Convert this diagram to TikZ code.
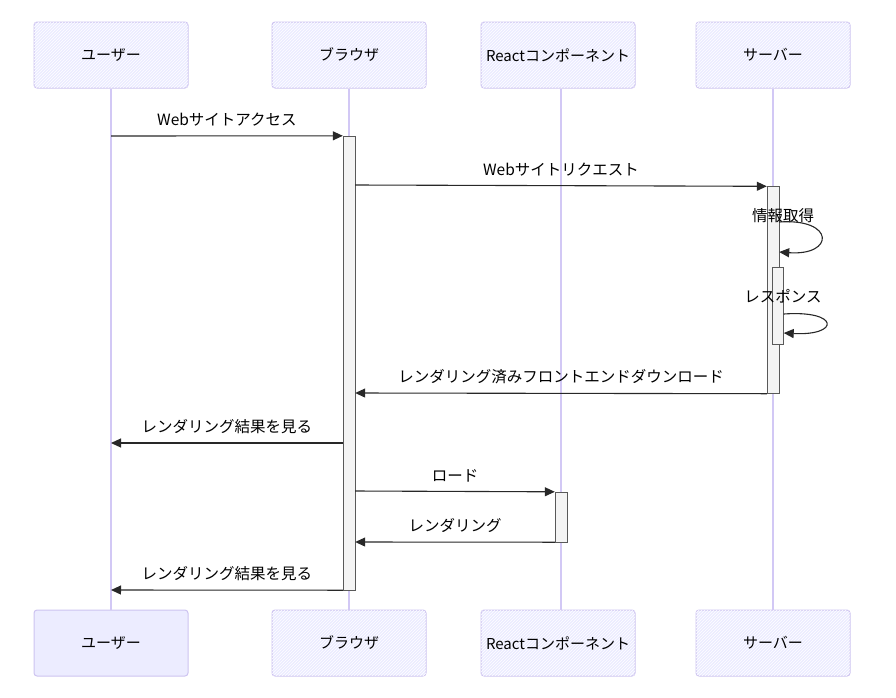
\documentclass[tikz,border=0pt]{standalone}
\usepackage{fontspec}
\setmainfont{Noto Sans CJK JP}
\usepackage{tikz}
\usetikzlibrary{positioning, arrows.meta, calc, patterns}

\definecolor{boxfill}{RGB}{236,236,255}
\definecolor{boxline}{RGB}{205,195,240}
\definecolor{lifeline}{RGB}{210,200,245}
\definecolor{actfill}{RGB}{244,244,244}
\definecolor{msgline}{RGB}{40,40,40}

\begin{document}
\begin{tikzpicture}[x=1pt, y=-1pt, >={Triangle[length=10pt,width=9pt]},
    actor/.style={draw=boxline, line width=1pt, fill=boxfill, rounded corners=3pt,
        minimum width=154pt, minimum height=66pt, font=\fontsize{15}{17}\selectfont,
        postaction={pattern=north east lines, pattern color=white}},
    actorplain/.style={draw=boxline, line width=1pt, fill=boxfill, rounded corners=3pt,
        minimum width=154pt, minimum height=66pt, font=\fontsize{15}{17}\selectfont},
    act/.style={draw=gray!70!black, fill=actfill, minimum width=12pt, inner sep=0pt},
    life/.style={draw=lifeline, line width=1.2pt},
    msg/.style={draw=msgline, line width=1.1pt, ->},
    lbl/.style={font=\fontsize{15.5}{17}\selectfont, inner sep=1pt}]

    \useasboundingbox (0,0) rectangle (896,697);

    % ================= Actors (top) =================
    \node[actor] (userT)   at (111,55)   {ユーザー};
    \node[actor] (browT)   at (349,55)   {ブラウザ};
    \node[actor] (reactT)  at (558,55)   {Reactコンポーネント};
    \node[actor] (servT)   at (773,55)   {サーバー};

    % ================= Actors (bottom) =================
    \node[actorplain] (userB)  at (111,643) {ユーザー};
    \node[actor] (browB)   at (349,643) {ブラウザ};
    \node[actor] (reactB)  at (558,643) {Reactコンポーネント};
    \node[actor] (servB)   at (773,643) {サーバー};

    % ================= Lifelines =================
    \draw[life] (userT) -- (userB);
    \draw[life] (browT) -- (browB);
    \draw[life] (reactT.south -| 561,0) -- (reactB.north -| 561,0);
    \draw[life] (servT) -- (servB);

    % ================= Activations =================
    \node[act, minimum height=454pt] (actB)  at (349,363) {};
    \node[act, minimum height=207pt] (actS)  at (773,290) {};
    \node[act, minimum height=77pt, minimum width=11pt] (actS2) at (778,306) {};
    \node[act, minimum height=50pt] (actR)  at (561,517) {};

    % ================= Messages =================
    % user -> browser
    \draw[msg] (userT |- 0,136) -- (actB.north west)
        node[lbl, midway, above=8pt] (m1) {Webサイトアクセス};

    % browser -> server
    \draw[msg] (actB.east |- 0,185) -- (actS.north west)
        node[lbl, midway, above=8pt] (m2) {Webサイトリクエスト};

    % server self calls
    \node[lbl] (m3) at (783,216) {情報取得};
    \draw[msg] (actS.east |- 0,222) .. controls (835,218) and (835,256) .. (actS.east |- 0,252);
    \node[lbl] (m4) at (783,296) {レスポンス};
    \draw[msg] (actS2.east |- 0,314) .. controls (840,310) and (840,336) .. (actS2.east |- 0,333);

    % server -> browser
    \draw[msg] (actS.south west) -- (actB.east |- 0,393)
        node[lbl, midway, above=8pt] (m5) {レンダリング済みフロントエンドダウンロード};

    % browser -> user
    \draw[msg] (actB.west |- 0,443) -- (userT |- 0,443)
        node[lbl, midway, above=8pt] (m6) {レンダリング結果を見る};

    % browser <-> react
    \draw[msg] (actB.east |- 0,491) -- (actR.north west)
        node[lbl, midway, above=8pt] (m7) {ロード};
    \draw[msg] (actR.south west) -- (actB.east |- 0,542)
        node[lbl, midway, above=8pt] (m8) {レンダリング};

    % browser -> user
    \draw[msg] (actB.south west) -- (userT |- 0,590)
        node[lbl, midway, above=8pt] (m9) {レンダリング結果を見る};

\end{tikzpicture}
\end{document}
